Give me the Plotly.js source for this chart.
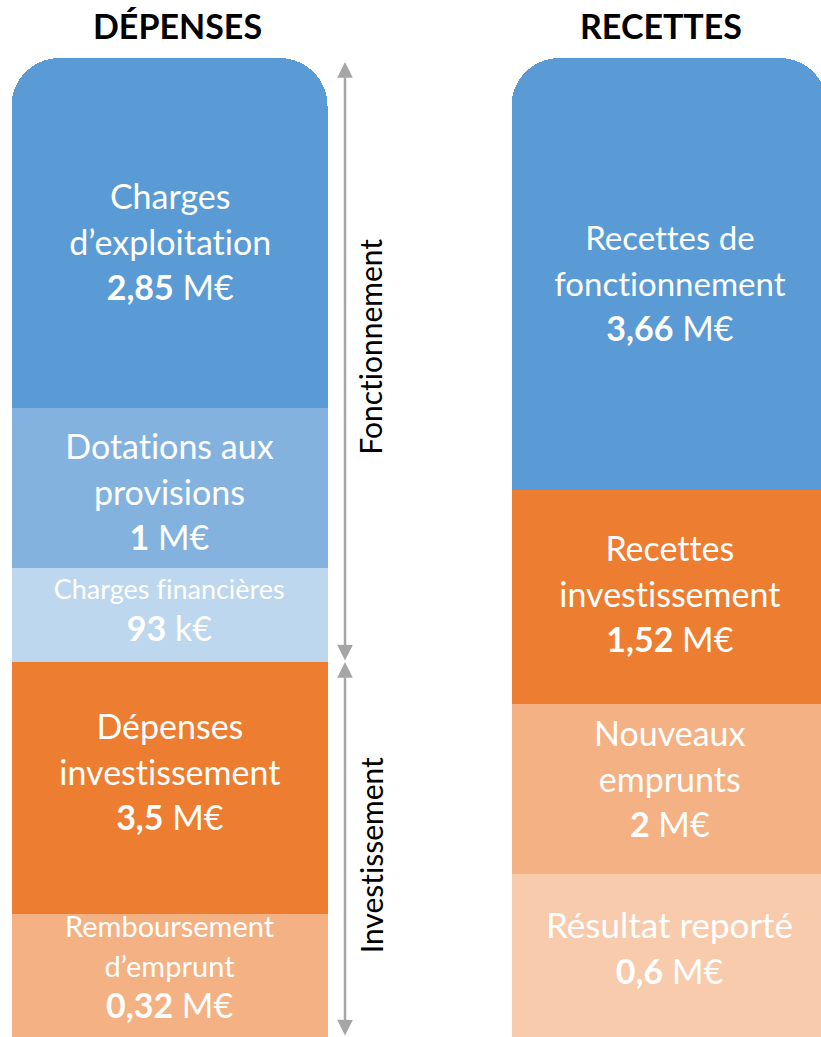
<!DOCTYPE html>
<html>
<head>
<meta charset="utf-8">
<script src="https://cdn.plot.ly/plotly-3.0.1.min.js"></script>
<style>
html,body{margin:0;padding:0;background:#fff;}
#chart{width:821px;height:1037px;}
#chart text{font-variant-ligatures:none;font-feature-settings:"liga" 0,"clig" 0;}
</style>
</head>
<body>
<div id="chart"></div>
<script>
// ---- Data ----
const categories = ["DÉPENSES", "RECETTES"];
const sections = ["Fonctionnement", "Investissement"];

// Dépenses, top to bottom
const depLabels = ["Charges<br>d’exploitation", "Dotations aux<br>provisions", "Charges financières", "Dépenses<br>investissement", "Remboursement<br>d’emprunt"];
const depValues = [2.85, 1, 0.093, 3.5, 0.32];          // in M€
const depBlocks = [350, 160, 94, 252, 123];              // schematic block heights (not proportional to values)
const depSection = [0, 0, 0, 1, 1];

// Recettes, top to bottom
const recLabels = ["Recettes de<br>fonctionnement", "Recettes<br>investissement", "Nouveaux<br>emprunts", "Résultat reporté"];
const recValues = [3.66, 1.52, 2, 0.6];                  // in M€
const recBlocks = [432, 214, 170, 163];

// ---- Styles ----
const depColors = ["#5B9BD5", "#83B2DF", "#BDD7EE", "#ED7D31", "#F4B183"];
const recColors = ["#5B9BD5", "#ED7D31", "#F4B183", "#F8CBAD"];
const depNameSize = [34, 34, 27, 34, 29];
const recNameSize = [33, 34, 34, 35];
const depLineSize = [35, 35, 32, 35, 31];
const recLineSize = [35, 35, 35, 35];
const depShift = [8, 3, -5, -17, -9];     // px, label offset from block centre (down = +)
const recShift = [8, -4, -11, -9];
const FONT = "Lato, 'Open Sans', sans-serif";
const BAR_W = 0.632;

function fmtValue(v) {
  if (v < 0.1) return { num: String(Math.round(v * 1000)), unit: "k€" };
  return { num: String(v).replace(".", ","), unit: "M€" };
}
function labelHtml(name, value, sz) {
  const f = fmtValue(value);
  const lines = name.split("<br>").map(l => `<span style="font-size:${sz}px">${l}</span>`);
  lines.push(`<span style="font-size:34px"><b>${f.num}</b> ${f.unit}</span>`);
  return lines.join("<br>");
}

const traces = [];
const annotations = [];
function addColumn(cat, labels, values, blocks, colors, nameSize, lineSize, shift) {
  // bars bottom -> top
  for (let i = labels.length - 1; i >= 0; i--) {
    traces.push({
      type: "bar",
      x: [cat],
      y: [blocks[i]],
      width: BAR_W,
      marker: { color: colors[i], line: { width: 0 } },
      hoverinfo: "skip",
      showlegend: false
    });
  }
  // labels at block centres
  let top = blocks.reduce((a, b) => a + b, 0);
  labels.forEach((lab, i) => {
    const mid = top - blocks[i] / 2;
    top -= blocks[i];
    annotations.push({
      x: cat, y: mid, xref: "x", yref: "y",
      xanchor: "center", yanchor: "middle", yshift: -shift[i],
      text: labelHtml(lab, values[i], nameSize[i]),
      showarrow: false, align: "center",
      font: { family: FONT, color: "#FFFFFF", size: lineSize[i] }
    });
  });
}
addColumn(categories[0], depLabels, depValues, depBlocks, depColors, depNameSize, depLineSize, depShift);
addColumn(categories[1], recLabels, recValues, recBlocks, recColors, recNameSize, recLineSize, recShift);

// section extents on the Dépenses column
const total = depBlocks.reduce((a, b) => a + b, 0);
const invest = depBlocks.filter((_, i) => depSection[i] === 1).reduce((a, b) => a + b, 0);
const arrowX = BAR_W / 2 + 0.035;

categories.forEach((c, i) => {
  annotations.push({
    x: c, xref: "x", y: 1, yref: "paper", yanchor: "middle", yshift: -25,
    xshift: i === 0 ? 8 : -9,
    text: `<b>${c}</b>`, showarrow: false,
    font: { family: FONT, size: 34, color: "#000000" }
  });
});
const secRanges = [[invest, total - 4], [0, invest]];
secRanges.forEach((r, i) => {
  annotations.push({
    x: arrowX, y: r[1], ax: arrowX, ay: r[0],
    xref: "x", yref: "y", axref: "x", ayref: "y",
    text: "", showarrow: true, arrowhead: 2, startarrowhead: 2,
    arrowside: "end+start", arrowsize: 1.25, startarrowsize: 1.25,
    arrowwidth: 2.5, arrowcolor: "#A6A6A6", standoff: 0, startstandoff: 0
  });
  annotations.push({
    x: arrowX + 0.05, y: (r[0] + r[1]) / 2, xref: "x", yref: "y",
    yshift: i === 0 ? 15 : -6,
    text: sections[i], textangle: -90, showarrow: false,
    font: { family: FONT, size: 30, color: "#000000" }
  });
});

const layout = {
  width: 821, height: 1037,
  margin: { l: 0, r: 0, t: 0, b: 0, pad: 0 },
  paper_bgcolor: "#FFFFFF", plot_bgcolor: "#FFFFFF",
  barmode: "stack",
  barcornerradius: 48,
  xaxis: { type: "category", categoryarray: categories, categoryorder: "array", range: [-0.339, 1.303], visible: false, fixedrange: true },
  yaxis: { range: [0, 1037], visible: false, fixedrange: true },
  annotations: annotations,
  showlegend: false
};

Plotly.newPlot("chart", traces, layout, { staticPlot: true, displayModeBar: false });
</script>
</body>
</html>
